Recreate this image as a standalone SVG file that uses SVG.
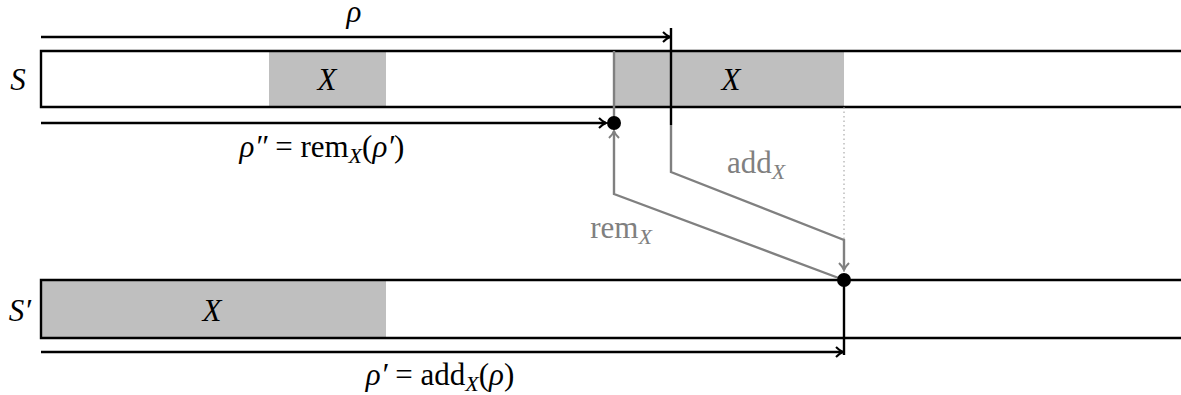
<svg xmlns="http://www.w3.org/2000/svg" width="1181" height="395" viewBox="0 0 1181 395">
<defs>
<style>
.t{font-family:"Liberation Serif","DejaVu Serif",serif;font-size:31px;fill:#000}
.i{font-style:italic}
.g{fill:#808080}
.bar{fill:none;stroke:#000;stroke-width:2.4}
.blk{fill:none;stroke:#000;stroke-width:2.4}
.gry{fill:none;stroke:#808080;stroke-width:2.4}
.box{fill:#bfbfbf;stroke:none}
</style>
<marker id="ab" viewBox="-10 -6 12 12" refX="0" refY="0" markerWidth="12" markerHeight="12" markerUnits="userSpaceOnUse" orient="auto">
<path d="M-7,-5 Q-3,-1 0,0 Q-3,1 -7,5" fill="none" stroke="#000" stroke-width="2"/>
</marker>
<marker id="ag" viewBox="-10 -6 12 12" refX="0" refY="0" markerWidth="12" markerHeight="12" markerUnits="userSpaceOnUse" orient="auto">
<path d="M-7,-5 Q-3,-1 0,0 Q-3,1 -7,5" fill="none" stroke="#808080" stroke-width="2"/>
</marker>
</defs>

<g id="tape-S">
<rect class="box" x="269" y="51" width="117" height="56"/>
<rect class="box" x="614" y="51" width="230" height="56"/>
<path class="bar" d="M1181,51 H41 V107 H1181"/>
<text class="t i" x="18" y="90" text-anchor="middle">S</text>
<text class="t i" x="327" y="90" text-anchor="middle">X</text>
<text class="t i" x="731" y="90" text-anchor="middle">X</text>
</g>

<g id="tape-S-prime">
<rect class="box" x="41" y="280" width="345" height="58"/>
<path class="bar" d="M1181,280 H41 V338 H1181"/>
<text class="t i" x="20" y="321" text-anchor="middle">S′</text>
<text class="t i" x="212" y="321" text-anchor="middle">X</text>
</g>

<g id="connectors">
<line x1="844" y1="107" x2="844" y2="240" stroke="#999" stroke-width="1" stroke-dasharray="1.5,3"/>
<line class="blk" x1="41" y1="37" x2="670" y2="37" marker-end="url(#ab)"/>
<line class="blk" x1="671" y1="28" x2="671" y2="125"/>
<line class="gry" x1="614" y1="51" x2="614" y2="123"/>
<line class="blk" x1="41" y1="123" x2="606" y2="123" marker-end="url(#ab)"/>
<path class="gry" d="M671,125 V172 L844,240 V270" marker-end="url(#ag)"/>
<path class="gry" d="M844,280 L614,194 V131" marker-end="url(#ag)"/>
<line class="blk" x1="41" y1="352" x2="843" y2="352" marker-end="url(#ab)"/>
<line class="blk" x1="844" y1="280" x2="844" y2="355"/>
<circle cx="614" cy="123" r="7" fill="#000"/>
<circle cx="844" cy="280" r="7" fill="#000"/>
</g>

<g id="labels">
<text class="t i" x="354" y="22" font-size="28" text-anchor="middle">ρ</text>
<text class="t" x="322" y="157" text-anchor="middle"><tspan class="i">ρ″</tspan> = rem<tspan class="i" font-size="22" dy="6">X</tspan><tspan dy="-6">(</tspan><tspan class="i">ρ′</tspan>)</text>
<text class="t" x="440" y="385" text-anchor="middle"><tspan class="i">ρ′</tspan> = add<tspan class="i" font-size="22" dy="6">X</tspan><tspan dy="-6">(</tspan><tspan class="i">ρ</tspan>)</text>
<text class="t g" x="756" y="173" text-anchor="middle">add<tspan class="i" font-size="22" dy="6">X</tspan></text>
<text class="t g" x="621" y="238" text-anchor="middle">rem<tspan class="i" font-size="22" dy="6">X</tspan></text>
</g>
</svg>
